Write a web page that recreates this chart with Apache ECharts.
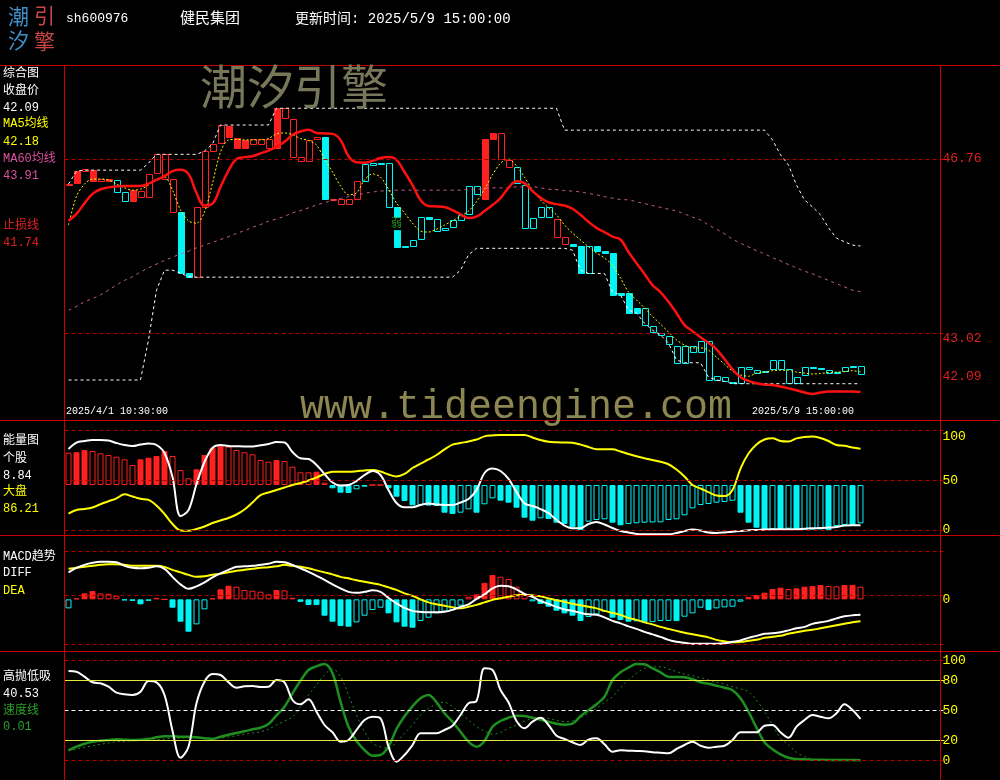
<!DOCTYPE html>
<html><head><meta charset="utf-8">
<script src="https://cdn.jsdelivr.net/npm/echarts@6/dist/echarts.min.js"></script>
<style>html,body{margin:0;padding:0;background:#000;}#c{width:1000px;height:780px;}</style>
</head><body><div id="c"></div>
<script>
// ---------------- DATA ----------------
const tradeDays = ['2025/4/1','2025/4/2','2025/4/3','2025/4/7','2025/4/8','2025/4/9','2025/4/10','2025/4/11',
  '2025/4/14','2025/4/15','2025/4/16','2025/4/17','2025/4/18','2025/4/21','2025/4/22','2025/4/23','2025/4/24','2025/4/25',
  '2025/4/28','2025/4/29','2025/4/30','2025/5/6','2025/5/7','2025/5/8','2025/5/9'];
const sessions = ['10:30','11:30','14:00','15:00'];

const openPrice = [46.20,46.50,46.50,46.52,46.29,46.33,46.04,45.86,46.09,45.94,
45.94,46.45,46.32,45.63,45.61,44.32,44.22,45.73,46.93,47.10,
47.47,47.22,47.17,47.08,47.08,46.99,47.85,47.65,46.81,46.72,
46.72,47.18,47.24,45.91,45.79,45.79,45.91,46.29,46.64,46.68,
45.73,45.72,44.89,44.89,45.03,45.51,45.22,45.23,45.29,45.45,
45.57,46.01,47.19,47.31,46.75,46.59,46.24,45.27,45.27,45.51,
45.51,45.09,44.93,44.93,44.90,44.30,44.89,44.78,44.75,43.89,
43.89,43.55,43.19,43.05,42.98,42.78,42.38,42.38,42.61,42.61,
42.02,42.01,41.98,41.97,41.94,42.24,42.15,42.21,42.24,42.25,
41.95,41.95,42.11,42.29,42.27,42.15,42.19,42.21,42.31,42.14];
const closePrice = [46.23,46.24,46.55,46.29,46.33,46.29,46.31,46.04,45.86,46.07,
46.44,46.86,46.86,46.32,44.30,44.23,45.73,46.93,47.08,47.49,
47.24,46.99,46.99,47.18,47.20,47.20,46.99,47.85,47.63,46.81,
47.17,47.23,45.91,45.88,45.90,45.90,46.29,46.65,46.68,46.65,
46.67,44.86,44.86,45.02,45.51,45.48,45.46,45.27,45.45,45.56,
46.19,46.19,45.90,47.19,47.31,46.74,46.58,46.20,45.49,45.72,
45.72,45.48,45.08,44.90,44.30,44.90,44.79,44.75,43.84,43.84,
43.46,43.46,43.55,43.18,43.03,42.95,42.75,42.75,42.75,42.84,
42.84,42.09,42.08,41.94,42.29,42.29,42.22,42.18,42.45,42.45,
42.24,42.08,42.29,42.27,42.24,42.22,42.15,42.28,42.28,42.31];
// trend signal of each bar (1 = strong, 0 = weak)
const trendSignal = [1,1,1,1,1,1,0,0,1,1, 1,1,1,1,0,0,1,1,1,1,
1,1,1,1,1,1,1,1,1,1, 1,1,0,1,1,1,1,0,0,0, 0,0,0,0,0,0,0,0,0,0,
0,0,1,1,1,1,0,0,0,0, 0,1,1,0,0,0,0,0,0,0, 0,0,0,0,0,0,0,0,0,0,
0,0,0,0,0,0,0,0,0,0, 0,0,0,0,0,0,0,0,0,0];

const ma5 = [45.34,45.96,46.22,46.33,46.33,46.31,46.22,46.14,46.09,46.11,
46.20,46.33,46.37,46.09,45.66,45.43,45.38,45.62,46.24,46.91,
47.17,47.18,47.17,47.17,47.17,47.20,47.30,47.32,47.28,47.20,
47.16,47.06,46.76,46.48,46.18,45.99,46.03,46.31,46.44,46.37,
46.11,45.81,45.60,45.38,45.21,45.19,45.25,45.34,45.43,45.53,
45.64,45.84,46.11,46.42,46.67,46.76,46.61,46.37,46.09,45.88,
45.71,45.56,45.34,45.17,45.02,44.87,44.74,44.63,44.48,44.20,
43.90,43.73,43.56,43.38,43.21,43.04,42.87,42.76,42.70,42.70,
42.65,42.50,42.35,42.20,42.12,42.09,42.16,42.18,42.21,42.22,
42.22,42.18,42.16,42.14,42.15,42.17,42.18,42.19,42.21,42.18];
const ma60 = [43.51,43.59,43.69,43.76,43.84,43.94,44.05,44.15,44.23,44.33,
44.42,44.50,44.58,44.65,44.72,44.78,44.85,44.91,44.97,45.03,
45.09,45.16,45.22,45.29,45.35,45.42,45.47,45.53,45.60,45.65,
45.71,45.77,45.82,45.87,45.91,45.95,45.99,46.02,46.05,46.07,
46.08,46.09,46.09,46.09,46.09,46.09,46.09,46.09,46.09,46.09,
46.11,46.11,46.13,46.14,46.14,46.15,46.16,46.16,46.16,46.14,
46.11,46.10,46.08,46.07,46.05,46.02,45.99,45.95,45.92,45.89,
45.88,45.84,45.80,45.76,45.72,45.68,45.64,45.58,45.51,45.45,
45.34,45.25,45.15,45.04,44.95,44.87,44.79,44.72,44.64,44.57,
44.49,44.42,44.35,44.29,44.22,44.15,44.08,44.01,43.94,43.91];
const stopLine = [45.43,45.58,45.81,46.01,46.11,46.15,46.17,46.18,46.18,46.18,
46.23,46.31,46.39,46.50,46.53,46.44,46.03,45.76,45.80,46.16,
46.51,46.76,46.80,46.82,46.88,46.94,47.02,47.13,47.28,47.35,
47.39,47.32,47.31,47.30,47.17,46.82,46.69,46.68,46.72,46.78,
46.80,46.74,46.48,46.20,45.88,45.75,45.74,45.73,45.66,45.57,
45.49,45.52,45.64,45.77,45.92,46.14,46.28,46.24,46.07,45.93,
45.83,45.79,45.76,45.69,45.56,45.41,45.28,45.19,45.09,45.03,
44.76,44.52,44.29,44.05,43.90,43.69,43.45,43.19,43.06,42.93,
42.81,42.67,42.46,42.24,42.07,41.99,41.94,41.91,41.90,41.87,
41.83,41.79,41.74,41.71,41.74,41.76,41.76,41.76,41.76,41.75];
const channelHigh = [46.22,46.50,46.52,46.52,46.52,46.52,46.52,46.52,46.52,46.52,
46.67,46.86,46.86,46.86,46.86,46.86,46.86,46.93,47.08,47.49,
47.49,47.49,47.49,47.49,47.49,47.49,47.85,47.85,47.85,47.85,
47.85,47.85,47.85,47.85,47.85,47.85,47.85,47.85,47.85,47.85,
47.85,47.85,47.85,47.85,47.85,47.85,47.85,47.85,47.85,47.85,
47.85,47.85,47.85,47.85,47.85,47.85,47.85,47.85,47.85,47.85,
47.85,47.85,47.38,47.38,47.38,47.38,47.38,47.38,47.38,47.38,
47.38,47.38,47.38,47.38,47.38,47.38,47.38,47.38,47.38,47.38,
47.38,47.38,47.38,47.38,47.38,47.38,47.38,47.38,47.17,46.85,
46.63,46.20,45.88,45.73,45.56,45.28,45.06,44.98,44.91,44.89];
const channelLow = [42.01,42.01,42.01,42.01,42.01,42.01,42.01,42.01,42.01,42.01,
42.87,43.94,44.37,44.37,44.31,44.23,44.22,44.22,44.22,44.22,
44.22,44.22,44.22,44.22,44.22,44.22,44.22,44.22,44.22,44.22,
44.22,44.22,44.22,44.22,44.22,44.22,44.22,44.22,44.22,44.22,
44.22,44.22,44.22,44.22,44.22,44.22,44.22,44.22,44.22,44.37,
44.70,44.84,44.84,44.84,44.84,44.84,44.84,44.84,44.84,44.84,
44.84,44.84,44.84,44.80,44.37,44.30,44.30,44.30,43.90,43.84,
43.51,43.45,43.23,43.08,42.98,42.80,42.44,42.38,42.38,42.38,
42.07,42.01,41.98,41.93,41.93,41.93,41.93,41.93,41.93,41.93,
41.93,41.93,41.93,41.93,41.93,41.93,41.93,41.93,41.93,41.93];

const energyBar = [32.3,32.8,35,34,31.7,30,28.3,25.7,20,25.7,
27.3,29,34,29,15,6.7,15.7,30,37.3,39,
38.3,35,32.7,30.7,25,23.3,25,24,18.3,12.7,
12.7,13.3,2.3,-3.3,-7.7,-8.0,-4.3,-1.7,0,0,
-3.3,-11.7,-16,-20.3,-20,-20.6,-21,-27.7,-29,-27.7,
-24.3,-27.7,-19.3,-13.3,-15.7,-17.7,-22.7,-32.7,-35.7,-33.3,
-34,-37.7,-39,-42.3,-45,-36.7,-35,-34.3,-37.7,-40.3,
-39,-38.3,-37.7,-37.5,-37.3,-35,-34.3,-30.3,-23.3,-20,
-19,-17.7,-17,-15.7,-27.7,-37.7,-42.7,-45,-44.3,-45,
-43.7,-45,-44.8,-44.6,-44.4,-45.2,-41,-40,-40.5,-38.3];
const stockEnergy = [81.6,87.9,89.6,90.6,90.6,90.1,87.6,85.6,84.6,86.1,
87.1,85.6,77.5,53.4,14.0,20.0,46.3,68.5,82.6,85.6,
84.6,84.3,84.1,84.1,85.3,86.6,88.6,88.1,78.5,72.2,
71.5,65.5,56.4,47.8,44.8,45.3,49.3,55.4,59.4,55.4,
40.3,27.2,22.9,22.9,25.2,26.7,25.7,25.2,25.2,27.7,
31.2,40.3,57.4,61.9,59.4,51.4,38.3,26.7,24.2,21.1,
17.1,10.1,4.5,1.7,1.7,6.0,8.1,5.5,2.0,-1.0,
-2.5,-4.0,-4.3,-4.3,-4.3,-4.3,-3.0,-1.0,0.5,-0.5,
-2.5,-3.0,-2.5,-1.7,-1.0,-0.3,0,0.5,0.7,0.7,
0.7,0.7,1.3,1.7,2.0,2.5,3.0,4.5,4.7,4.7];
const marketEnergy = [16.6,20.1,21.1,22.7,25.9,28.9,31.9,35.9,33.7,31.4,
30.4,24.7,16.1,6.0,-0.5,-0.8,1.0,3.5,7.0,9.6,
12.1,15.6,20.6,27.7,35.2,37.8,40.3,42.8,45.3,47.3,
49.8,52.9,56.4,58.7,58.7,58.7,59.2,59.9,60.4,58.9,
55.9,53.9,56.4,62.4,66.9,71.0,75.5,81.1,85.9,87.6,
89.1,91.1,94.3,95.2,95.7,95.7,95.7,95.7,93.2,90.6,
88.8,88.3,88.1,87.9,86.0,83.6,81.3,81.3,81.3,79.0,
76.5,74.2,72.2,70.5,68.7,66.2,60.9,53.9,45.3,41.8,
38.1,34.7,34.2,40.3,61.9,77.0,86.1,91.1,92.3,89.6,
89.1,92.3,93.7,94.2,92.6,89.6,85.6,84.8,83.1,81.9];

const macdBar = [-0.18,0.02,0.12,0.167,0.12,0.11,0.073,-0.02,-0.03,-0.1,
-0.03,0.03,0,-0.167,-0.447,-0.647,-0.5,-0.2,0.02,0.2,
0.273,0.253,0.187,0.173,0.153,0.1,0.187,0.18,0.033,-0.05,
-0.113,-0.115,-0.327,-0.447,-0.533,-0.547,-0.46,-0.327,-0.213,-0.167,
-0.28,-0.46,-0.547,-0.567,-0.433,-0.367,-0.28,-0.247,-0.213,-0.127,
0.053,0.1,0.33,0.487,0.453,0.407,0.253,0.087,-0.04,-0.093,
-0.147,-0.227,-0.28,-0.327,-0.433,-0.353,-0.3,-0.247,-0.367,-0.413,
-0.447,-0.44,-0.46,-0.455,-0.433,-0.43,-0.435,-0.347,-0.28,-0.167,
-0.213,-0.18,-0.16,-0.147,-0.047,0.05,0.087,0.133,0.207,0.233,
0.207,0.22,0.253,0.267,0.287,0.267,0.26,0.287,0.29,0.253];
const diff = [0.54,0.63,0.69,0.73,0.75,0.75,0.74,0.67,0.63,0.62,
0.63,0.66,0.61,0.45,0.30,0.21,0.26,0.34,0.44,0.52,
0.59,0.65,0.66,0.67,0.69,0.71,0.75,0.74,0.69,0.62,
0.55,0.47,0.39,0.30,0.22,0.15,0.13,0.15,0.18,0.15,
0.03,-0.08,-0.17,-0.23,-0.25,-0.26,-0.26,-0.25,-0.21,-0.15,
-0.10,0.01,0.10,0.22,0.27,0.26,0.20,0.11,0.05,-0.03,
-0.09,-0.15,-0.20,-0.23,-0.27,-0.30,-0.31,-0.36,-0.43,-0.48,
-0.54,-0.59,-0.65,-0.70,-0.75,-0.81,-0.85,-0.87,-0.89,-0.89,
-0.89,-0.89,-0.88,-0.85,-0.82,-0.77,-0.73,-0.69,-0.68,-0.66,
-0.62,-0.58,-0.55,-0.49,-0.46,-0.43,-0.38,-0.34,-0.32,-0.31];
const dea = [0.61,0.63,0.65,0.67,0.69,0.70,0.70,0.69,0.67,0.67,
0.67,0.67,0.65,0.59,0.54,0.49,0.45,0.46,0.49,0.51,
0.54,0.57,0.59,0.61,0.63,0.64,0.66,0.69,0.67,0.65,
0.62,0.58,0.54,0.50,0.45,0.42,0.38,0.35,0.32,0.29,
0.24,0.19,0.12,0.07,0.00,-0.06,-0.10,-0.13,-0.16,-0.18,
-0.15,-0.11,-0.06,-0.01,0.02,0.05,0.08,0.09,0.08,0.06,
0.02,-0.02,-0.05,-0.09,-0.12,-0.15,-0.18,-0.23,-0.27,-0.31,
-0.37,-0.41,-0.46,-0.50,-0.55,-0.59,-0.63,-0.67,-0.70,-0.73,
-0.76,-0.81,-0.84,-0.86,-0.85,-0.83,-0.81,-0.77,-0.75,-0.73,
-0.69,-0.66,-0.63,-0.61,-0.58,-0.55,-0.52,-0.49,-0.46,-0.44];

const swingLine = [89.7,89.0,84.0,78.4,77.4,74.0,68.0,66.4,65.7,69.0,
79.7,78.4,65.7,30.0,3.0,14.0,57.4,79.0,86.7,85.7,
78.4,73.0,74.4,74.7,73.7,74.0,80.7,78.4,60.7,56.4,
61.4,49.0,35.7,28.4,19.0,20.7,30.7,40.7,44.0,42.4,
14.0,-1.0,5.7,15.7,27.4,27.4,27.4,30.7,35.0,45.7,
57.4,59.7,92.4,90.7,70.7,58.4,39.7,32.4,39.0,43.0,
35.7,25.0,21.7,18.4,15.7,21.0,22.4,16.4,9.0,10.4,
10.0,9.7,9.4,8.4,8.0,7.4,11.7,15.7,19.0,15.0,
13.0,14.0,15.0,20.7,28.4,28.4,28.4,35.0,35.7,28.4,
23.0,34.0,40.7,45.7,44.0,42.4,47.4,56.4,50.7,41.7];
const speed = [10.4,14.0,17.0,19.0,20.0,20.7,21.4,21.0,20.7,21.0,
21.7,23.4,24.4,24.4,24.0,24.0,23.4,22.4,21.7,24.0,
26.0,27.7,29.4,31.4,33.0,36.7,45.4,54.0,67.4,80.0,
90.7,94.4,96.7,87.4,59.0,34.0,19.7,10.7,5.0,5.7,
14.0,31.7,44.4,54.4,62.4,65.7,58.4,47.4,39.0,29.0,
19.0,14.0,19.7,34.0,39.7,43.0,45.0,44.7,43.0,41.0,
39.0,37.0,36.0,37.0,44.4,50.4,56.4,64.0,80.7,88.4,
93.0,96.7,96.4,92.4,88.4,84.0,83.7,83.4,81.4,78.4,
77.0,75.0,73.0,70.4,62.4,49.0,33.0,18.4,11.4,6.4,
3.0,1.7,1.4,1.0,1.0,0.7,0.7,0.7,0.7,0.5];
const speedSlow = [10.0,11.7,13.4,15.0,16.4,17.7,19.0,19.4,20.0,20.4,
20.7,21.0,21.7,22.4,22.7,23.0,23.0,22.7,22.4,22.7,
23.7,25.0,26.4,27.7,28.7,31.7,35.7,39.7,43.7,54.0,
65.7,75.7,85.7,91.7,84.0,65.7,45.7,29.0,17.4,14.0,
12.4,19.0,27.4,35.7,45.7,52.4,56.4,58.4,54.0,47.4,
40.7,34.0,29.7,26.4,28.4,32.4,35.7,39.7,42.0,43.0,
42.4,40.4,39.0,39.7,43.0,47.4,52.4,58.4,64.0,73.0,
80.7,87.4,92.4,93.7,94.0,91.7,89.0,86.4,85.0,83.0,
80.7,78.4,76.4,74.0,71.7,69.0,60.7,49.0,35.7,22.4,
15.7,8.4,4.0,1.7,0.7,0.7,0.7,0.7,0.7,0.7];

const priceTicks = [46.76, 43.02, 42.09];
const energyTicks = [0, 50, 100];
const macdTicks = [0];
const swingTicks = [0, 20, 50, 80, 100];
const legendValues = {close:'42.09', ma5:'42.18', ma60:'43.91', stop:'41.74', stock:'8.84', market:'86.21', swing:'40.53', speed:'0.01'};

// ---------------- BUILD ----------------
const categories = [];
tradeDays.forEach(d => sessions.forEach(s => categories.push(d + ' ' + s)));
const slots = categories.slice();
for (let k = 0; k < 10; k++) slots.push('pad' + k);

const RED = '#ff2020', CYAN = '#00f4f4', FRAME = '#c80000', GRID_RED = '#b00000';
const YEL = '#ffff00', GREEN = '#1f8f1f';
const FONT = "'Liberation Mono','Noto Sans CJK SC',monospace";

const candleRows = openPrice.map((o, i) => [i, o, closePrice[i], trendSignal[i]]);
function renderCandle(params, api) {
  const i = api.value(0), o = api.value(1), c = api.value(2), sig = api.value(3);
  const p1 = api.coord([i, o]), p2 = api.coord([i, c]);
  const w = 6;
  const x = Math.round(p1[0] - w / 2) + 0.5;
  const yt = Math.round(Math.min(p1[1], p2[1])) + 0.5;
  const yb = Math.round(Math.max(p1[1], p2[1])) + 0.5;
  const col = sig ? RED : CYAN;
  return {type: 'rect', shape: {x, y: yt, width: w, height: Math.max(yb - yt, 1)},
    style: {fill: c < o ? col : '#000', stroke: col, lineWidth: 1}};
}
function histItems(vals) {
  return vals.map((v, i) => {
    const col = v >= 0 ? RED : CYAN;
    const grow = i > 0 && Math.abs(v) > Math.abs(vals[i - 1]);
    return {value: v, itemStyle: {color: grow ? col : '#000', borderColor: col, borderWidth: 1}};
  });
}
function lineS(data, gi, yi, color, width, type, smooth, z) {
  return {type: 'line', data, xAxisIndex: gi, yAxisIndex: yi, showSymbol: false, symbol: 'none',
    smooth: smooth, lineStyle: {color, width, type}, z: z || 3, silent: true, animation: false};
}
function marks(list) {
  return {silent: true, symbol: ['none', 'none'], label: {show: false}, animation: false,
    data: list.map(m => ({yAxis: m[0], lineStyle: {color: m[1], type: m[2], width: 1}}))};
}
const DASH = [4, 3];

const grids = [
  {left: 64.5, top: 65, width: 880, height: 355},
  {left: 64.5, top: 420, width: 880, height: 115},
  {left: 64.5, top: 535, width: 880, height: 116},
  {left: 64.5, top: 651, width: 880, height: 129}
];
const xAxes = grids.map((g, i) => ({type: 'category', gridIndex: i, data: slots, boundaryGap: true, show: false}));
function yAx(gi, min, max, ticks, color, fmt, show) {
  return {type: 'value', gridIndex: gi, min, max, position: 'right', offset: -2,
    splitLine: {show: false}, axisLine: {show: false}, axisTick: {show: false},
    axisLabel: show === false ? {show: false} : {show: true, customValues: ticks, color, fontFamily: FONT, fontSize: 13, margin: 0,
      formatter: fmt || (v => String(v)), rich: {dn: {padding: [12, 0, 0, 0], color, fontFamily: FONT, fontSize: 13}}}};
}
const yAxes = [
  yAx(0, 41.15, 48.78, priceTicks, '#e02020', v => v === 43.02 ? '{dn|' + v.toFixed(2) + '}' : v.toFixed(2)),
  yAx(1, -5.04, 110.77, energyTicks, YEL, v => v === 100 ? '{dn|100}' : String(v)),
  yAx(1, -50, 65, [], YEL, null, false),
  yAx(2, -1.033, 1.287, macdTicks, YEL),
  yAx(3, -19.3, 109.7, swingTicks, YEL)
];

const series = [
  {type: 'custom', data: candleRows, xAxisIndex: 0, yAxisIndex: 0, renderItem: renderCandle,
    encode: {x: 0, y: [1, 2]}, z: 2, silent: true, animation: false, clip: true,
    markPoint: {silent: true, animation: false, data: [{coord: [41, 45.36], symbol: 'rect', symbolSize: [12, 12],
      itemStyle: {color: '#000'}, label: {show: true, position: 'inside', formatter: '弱', color: GREEN, fontSize: 11, fontFamily: FONT}}]}},
  Object.assign(lineS(channelHigh, 0, 0, '#ffffff', 1, [3, 3], false), {markLine: marks([[46.76, GRID_RED, DASH], [43.02, GRID_RED, DASH]])}),
  lineS(channelLow, 0, 0, '#ffffff', 1, [3, 3], false),
  lineS(ma60, 0, 0, '#d0649e', 1, [3, 4], true),
  lineS(ma5, 0, 0, YEL, 1, [2, 2], 0.3),
  lineS(stopLine, 0, 0, '#ff1010', 2.5, 'solid', 0.4, 4),

  {type: 'bar', data: histItems(energyBar), xAxisIndex: 1, yAxisIndex: 2, barWidth: 6, z: 2, silent: true, animation: false},
  Object.assign(lineS(marketEnergy, 1, 1, YEL, 2, 'solid', 0.35), {markLine: marks([[100, GRID_RED, DASH], [50, GRID_RED, DASH], [0, GRID_RED, DASH]])}),
  lineS(stockEnergy, 1, 1, '#ffffff', 2, 'solid', 0.35),

  {type: 'bar', data: histItems(macdBar), xAxisIndex: 2, yAxisIndex: 3, barWidth: 6, z: 2, silent: true, animation: false},
  Object.assign(lineS(dea, 2, 3, YEL, 2, 'solid', 0.35), {markLine: marks([[0.973, GRID_RED, DASH], [0.087, GRID_RED, DASH], [-0.893, GRID_RED, DASH]])}),
  lineS(diff, 2, 3, '#ffffff', 2, 'solid', 0.35),

  Object.assign(lineS(speedSlow, 3, 4, GREEN, 1, [2, 3], 0.35), {markLine: marks([[100, GRID_RED, DASH], [80, '#e8e840', 'solid'], [50, '#ffffff', DASH], [20, '#e8e840', 'solid'], [0, GRID_RED, DASH]])}),
  lineS(speed, 3, 4, GREEN, 2.5, 'solid', 0.35),
  lineS(swingLine, 3, 4, '#ffffff', 2, 'solid', 0.35)
];

function T(x, y, text, fill, size, extra) {
  return {type: 'text', x, y, z: 100, silent: true,
    style: Object.assign({text, fill, font: size + 'px ' + FONT, textAlign: 'left', align: 'left', textVerticalAlign: 'middle', verticalAlign: 'middle'}, extra || {})};
}
function L(x1, y1, x2, y2) {
  return {type: 'line', z: 90, silent: true, shape: {x1, y1, x2, y2}, style: {stroke: FRAME, lineWidth: 1}};
}
const lastTime = categories[categories.length - 1] + ':00';
const graphic = [
  // watermarks
  T(200, 86, '潮汐引擎', '#77775a', 47, {font: "47px 'Noto Sans CJK SC'"}),
  T(300, 407, 'www.tideengine.com', '#8c8650', 40, {font: "40px 'Liberation Mono',monospace"}),
  // frame
  L(0, 65.5, 1000, 65.5), L(0, 420.5, 1000, 420.5), L(0, 535.5, 1000, 535.5), L(0, 651.5, 1000, 651.5),
  L(64.5, 65, 64.5, 780), L(940.5, 65, 940.5, 780),
  // logo
  T(8, 16, '潮', '#3f8fca', 21, {font: "21px 'Noto Sans CJK SC'"}),
  T(34, 15, '引', '#c84646', 21, {font: "21px 'Noto Sans CJK SC'"}),
  T(8, 40, '汐', '#3f8fca', 21, {font: "21px 'Noto Sans CJK SC'"}),
  T(34, 41, '擎', '#c84646', 21, {font: "21px 'Noto Sans CJK SC'"}),
  // header
  T(66, 19, 'sh600976', '#ffffff', 13),
  T(180, 19, '健民集团', '#ffffff', 15),
  T(295, 19, '更新时间: ' + lastTime, '#ffffff', 14),
  // main legends
  T(3, 74, '综合图', '#ffffff', 12), T(3, 91, '收盘价', '#ffffff', 12), T(3, 108, legendValues.close, '#ffffff', 12),
  T(3, 124, 'MA5均线', YEL, 12), T(3, 142, legendValues.ma5, YEL, 12),
  T(3, 159, 'MA60均线', '#dc50a0', 12), T(3, 176, legendValues.ma60, '#dc50a0', 12),
  T(3, 226, '止损线', '#e02020', 12), T(3, 243, legendValues.stop, '#e02020', 12),
  // energy legends
  T(3, 441, '能量图', '#ffffff', 12), T(3, 459, '个股', '#ffffff', 12), T(3, 476, legendValues.stock, '#ffffff', 12),
  T(3, 492, '大盘', YEL, 12), T(3, 509, legendValues.market, YEL, 12),
  // macd legends
  T(3, 557, 'MACD趋势', '#ffffff', 12), T(3, 573, 'DIFF', '#ffffff', 12), T(3, 591, 'DEA', YEL, 12),
  // swing legends
  T(3, 677, '高抛低吸', '#ffffff', 12), T(3, 694, legendValues.swing, '#ffffff', 12),
  T(3, 711, '速度线', '#2aa02a', 12), T(3, 727, legendValues.speed, '#2aa02a', 12),
  // date labels
  T(66, 411, categories[0] + ':00', '#ffffff', 10),
  T(752, 411, lastTime, '#ffffff', 10)
];

const chart = echarts.init(document.getElementById('c'));
chart.setOption({
  backgroundColor: '#000', animation: false,
  grid: grids, xAxis: xAxes, yAxis: yAxes, series, graphic
});
</script></body></html>
